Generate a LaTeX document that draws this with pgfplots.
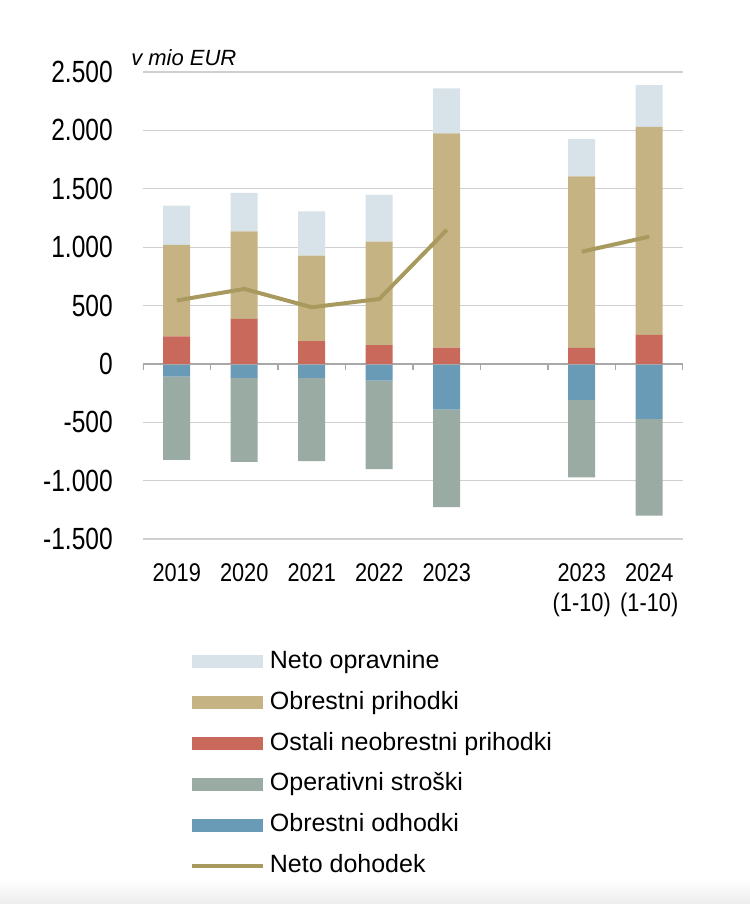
\documentclass[border=0pt]{standalone}
\usepackage{pgfplots}
\usepackage{pgfplotstable}
\pgfplotsset{compat=1.18}
\usepackage{fontspec}
\setmainfont{Liberation Sans}
\newfontfamily\narrowfont{Liberation Sans}[FakeStretch=0.8]
\newfontfamily\xnarrowfont{Liberation Sans}[FakeStretch=0.85]

\definecolor{cLight}{HTML}{D8E3E9}
\definecolor{cTan}{HTML}{C6B383}
\definecolor{cRed}{HTML}{C9695C}
\definecolor{cGray}{HTML}{99ABA3}
\definecolor{cBlue}{HTML}{6A9BB6}
\definecolor{cLine}{HTML}{A89A5E}
\definecolor{cGrid}{HTML}{D0D0D0}
\definecolor{cZero}{HTML}{A8A8A8}

\pgfplotstableread{
x red tan light blue gray
0 235 785 335 -109 -713
1 385 750 329 -120 -719
2 195 732 380 -120 -714
3 160 887 400 -143 -759
4 140 1834 385 -391 -837
6 137 1469 320 -308 -665
7 248 1783 357 -471 -828
}\bars

\pgfplotstableread{
x net
0 543
1 642
2 485
3 556
4 1147
}\netA

\pgfplotstableread{
x net
6 961
7 1090
}\netB

\pgfplotsset{
  base/.style={
    at={(0pt,0pt)}, anchor=south west,
    scale only axis, width=405pt, height=350.25pt,
    xmin=-0.5, xmax=7.5, ymin=-1500, ymax=2500,
    axis line style={draw=none},
    major tick length=0pt,
  },
  barleg/.style={legend image code/.code={\fill[##1] (0pt,-4.875pt) rectangle (53.25pt,4.875pt);}},
  lineleg/.style={legend image code/.code={\draw[##1] (0pt,0pt) -- (53.25pt,0pt);}},
}

\begin{document}
\begin{tikzpicture}
\path[use as bounding box] (-107.25pt,-273.75pt) rectangle (455.25pt,404.25pt);
\shade[top color=white, bottom color=black!7] (-107.25pt,-273.75pt) rectangle (455.25pt,-255pt);

% negative stack, grid, ticks
\begin{axis}[base, ybar stacked, bar width=20.25pt,
  ymajorgrids, grid style={cGrid, line width=0.8pt},
  ytick={-1500,-1000,-500,0,500,1000,1500,2000,2500},
  yticklabels={-1.500,-1.000,-500,0,500,1.000,1.500,2.000,2.500},
  yticklabel style={font=\narrowfont\fontsize{23}{23}\selectfont, anchor=east, inner sep=0pt, xshift=-22.5pt},
  xtick={0,1,2,3,4,6,7},
  xticklabels={2019,2020,2021,2022,2023,{2023\\(1-10)},{2024\\(1-10)}},
  xticklabel style={font=\xnarrowfont\fontsize{19.2}{23}\selectfont, align=center, anchor=north, inner sep=0pt, yshift=-18pt},
]
\draw[cZero, line width=1.2pt] (axis cs:-0.5,0) -- (axis cs:7.5,0);
\pgfplotsinvokeforeach{-0.5,0.5,1.5,2.5,3.5,4.5,5.5,6.5,7.5}{
  \draw[cZero, line width=1.2pt] (axis cs:#1,0) -- ++(0pt,-4.5pt);
}
\addplot[fill=cBlue, draw=none] table[x=x, y=blue] {\bars};
\addplot[fill=cGray, draw=none] table[x=x, y=gray] {\bars};
\end{axis}

% positive stack
\begin{axis}[base, ybar stacked, bar width=20.25pt, ticks=none]
\addplot[fill=cRed, draw=none] table[x=x, y=red] {\bars};
\addplot[fill=cTan, draw=none] table[x=x, y=tan] {\bars};
\addplot[fill=cLight, draw=none] table[x=x, y=light] {\bars};
\end{axis}

% line, legend, unit label
\begin{axis}[base, ticks=none, clip mode=individual,
  legend cell align=left,
  legend style={at={(0.087,-0.236)}, anchor=north west, draw=none, fill=none,
    inner sep=0pt, row sep=12.7pt, column sep=3.5pt,
    font=\fontsize{18.75}{22}\selectfont,
    nodes={inner sep=0pt, text height=14pt, text depth=4pt}},
]
\addlegendimage{barleg, fill=cLight, draw=none}
\addlegendentry{Neto opravnine}
\addlegendimage{barleg, fill=cTan, draw=none}
\addlegendentry{Obrestni prihodki}
\addlegendimage{barleg, fill=cRed, draw=none}
\addlegendentry{Ostali neobrestni prihodki}
\addlegendimage{barleg, fill=cGray, draw=none}
\addlegendentry{Operativni stroški}
\addlegendimage{barleg, fill=cBlue, draw=none}
\addlegendentry{Obrestni odhodki}
\addlegendimage{lineleg, cLine, line width=3pt}
\addlegendentry{Neto dohodek}

\addplot[sharp plot, no markers, cLine, line width=3pt, forget plot] table[x=x, y=net] {\netA};
\addplot[sharp plot, no markers, cLine, line width=3pt, forget plot] table[x=x, y=net] {\netB};

\node[anchor=base west, inner sep=0pt, font=\fontsize{16.5}{18}\selectfont\itshape]
  at (axis description cs:-0.0222,1.015) {v mio EUR};
\end{axis}
\end{tikzpicture}
\end{document}
